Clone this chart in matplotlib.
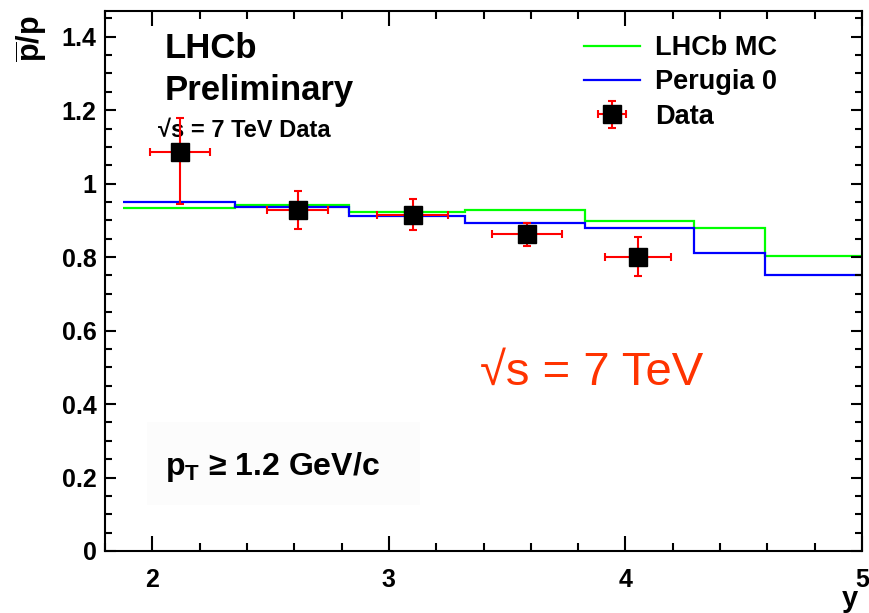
import numpy as np
import matplotlib
matplotlib.use('Agg')
import matplotlib.pyplot as plt
from matplotlib.ticker import MultipleLocator

plt.rcParams['font.family'] = ['Liberation Sans', 'DejaVu Sans']
plt.rcParams['font.weight'] = 'bold'
plt.rcParams['mathtext.fontset'] = 'custom'
plt.rcParams['mathtext.rm'] = 'Liberation Sans:bold'
plt.rcParams['mathtext.bf'] = 'Liberation Sans:bold'
plt.rcParams['mathtext.it'] = 'Liberation Sans:bold'

# ---- model histograms (bin edges in y, pbar/p ratio) ----
edges = [1.875, 2.35, 2.83, 3.32, 3.83, 4.29, 4.59, 5.0]
lhcb_mc = [0.935, 0.943, 0.924, 0.929, 0.899, 0.880, 0.804]
perugia0 = [0.951, 0.937, 0.913, 0.894, 0.880, 0.812, 0.752]

# ---- data points ----
y_data = [2.117, 2.614, 3.10, 3.585, 4.054]
ratio = [1.087, 0.929, 0.916, 0.863, 0.801]
x_err = [0.125, 0.13, 0.15, 0.147, 0.14]
err_lo = [0.142, 0.052, 0.042, 0.034, 0.053]
err_hi = [0.093, 0.052, 0.042, 0.031, 0.055]

fig = plt.figure(figsize=(8.69, 6.13), dpi=100)
ax = fig.add_axes([105/869, 62/613, 757/869, 540/613])

ax.stairs(lhcb_mc, edges, color='#00ff00', lw=1.6, baseline=None, label='LHCb MC')
ax.stairs(perugia0, edges, color='#0000ff', lw=1.6, baseline=None, label='Perugia 0')
ax.errorbar(y_data, ratio, xerr=x_err, yerr=[err_lo, err_hi], fmt='s', color='black',
            ms=13, ecolor='red', elinewidth=1.5, capsize=3, capthick=1.5, label='Data', zorder=5)

ax.set_xlim(1.8, 5.0)
ax.set_ylim(0, 1.47)
ax.xaxis.set_major_locator(MultipleLocator(1))
ax.xaxis.set_minor_locator(MultipleLocator(0.2))
ax.yaxis.set_minor_locator(MultipleLocator(0.05))
ax.set_yticks([0, 0.2, 0.4, 0.6, 0.8, 1.0, 1.2, 1.4])
ax.set_yticklabels(['0', '0.2', '0.4', '0.6', '0.8', '1', '1.2', '1.4'])
ax.tick_params(which='both', direction='in', top=True, right=True, width=1.5, labelsize=18)
ax.tick_params(axis='x', which='major', length=11, pad=12)
ax.tick_params(axis='x', which='minor', length=6)
ax.tick_params(axis='y', which='major', length=8, pad=6)
ax.tick_params(axis='y', which='minor', length=5)
for s in ax.spines.values():
    s.set_linewidth(1.5)

leg = ax.legend(loc='upper left', bbox_to_anchor=(0.6, 1.0), frameon=False, fontsize=19.5,
                handlelength=2.1, handletextpad=0.55, labelspacing=0.3)

# annotations
ax.text(0.079, 0.913, 'LHCb', transform=ax.transAxes, fontsize=25)
ax.text(0.079, 0.835, 'Preliminary', transform=ax.transAxes, fontsize=25)
ax.text(0.070, 0.767, '\u221as = 7 TeV Data', transform=ax.transAxes, fontsize=17)
ax.text(0.495, 0.307, '\u221as = 7 TeV', transform=ax.transAxes, fontsize=34,
        color='#ff3300', fontweight='normal')

ax.add_patch(plt.Rectangle((0.0555, 0.085), 0.36, 0.154, transform=ax.transAxes,
                           facecolor='#fcfcfc', edgecolor='none', zorder=0))
ax.text(0.079, 0.141, '$\\mathbf{p_T}$ \u2265 1.2 GeV/c', transform=ax.transAxes, fontsize=23)

fig.text(0.037, 0.936, r'$\overline{\mathbf{p}}\mathbf{/p}$', rotation=90, fontsize=22,
         ha='center', va='center')
fig.text(0.978, 0.0, 'y', fontsize=21, ha='center', va='bottom')

fig.savefig('out.png', dpi=100)
